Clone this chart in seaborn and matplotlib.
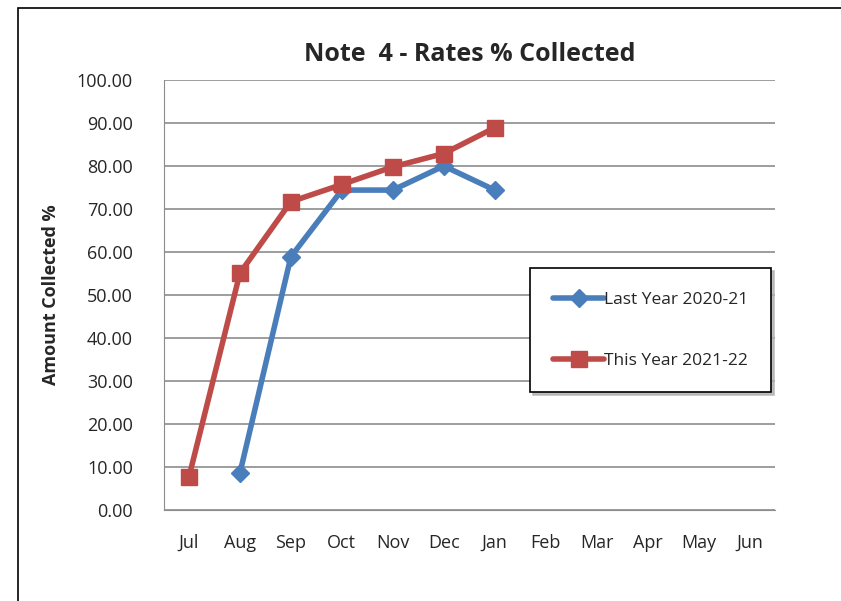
import matplotlib
matplotlib.use("Agg")
import matplotlib.pyplot as plt
import seaborn as sns
import pandas as pd
import numpy as np

months = ["Jul", "Aug", "Sep", "Oct", "Nov", "Dec", "Jan", "Feb", "Mar", "Apr", "May", "Jun"]
last_year = [np.nan, 8.6, 58.9, 74.4, 74.4, 80.0, 74.4, np.nan, np.nan, np.nan, np.nan, np.nan]
this_year = [7.7, 55.1, 71.7, 75.7, 79.8, 82.9, 88.9, np.nan, np.nan, np.nan, np.nan, np.nan]

df = pd.DataFrame({
    "month": months * 2,
    "pos": list(range(len(months))) * 2,
    "value": last_year + this_year,
    "series": ["Last Year 2020-21"] * len(months) + ["This Year 2021-22"] * len(months),
})

sns.set_style("white")
plt.rcParams["font.family"] = ["Open Sans", "DejaVu Sans"]

fig = plt.figure(figsize=(8.41, 6.01), dpi=100)
ax = fig.add_axes([163.5 / 841, 1 - 510 / 601, (775 - 163.5) / 841, 430 / 601])

colors = {"Last Year 2020-21": "#4a7ebb", "This Year 2021-22": "#be4b48"}
markers = {"Last Year 2020-21": "D", "This Year 2021-22": "s"}
for name, grp in df.groupby("series"):
    grp = grp.dropna()
    ax.plot(grp["pos"], grp["value"], color=colors[name], marker=markers[name],
            markersize=9 if name.startswith("Last") else 11, linewidth=4,
            label=name, zorder=3)

ax.set_xlim(-0.5, len(months) - 0.5)
ax.set_ylim(0, 100)
ax.set_yticks(np.arange(0, 101, 10))
ax.set_yticklabels([f"{v:.2f}" for v in np.arange(0, 101, 10)], fontsize=13)
ax.set_xticks(range(len(months)))
ax.set_xticklabels(months, fontsize=13)
ax.tick_params(axis="x", pad=17, length=0)
ax.tick_params(axis="y", pad=22, length=0)
ax.yaxis.grid(True, color="#8c8c8c", linewidth=1.2)
for s in ["top", "right"]:
    ax.spines[s].set_visible(False)
ax.spines["left"].set_color("#8c8c8c")
ax.spines["bottom"].set_color("#8c8c8c")
ax.set_ylabel("Amount Collected %", fontsize=13, fontweight="bold", labelpad=12)
ax.set_title("Note  4 - Rates % Collected", fontsize=18, fontweight="bold", pad=14)

leg = ax.legend(loc="upper left", bbox_to_anchor=((530 - 163.5) / (775 - 163.5), (510 - 268) / 430),
                frameon=True, fancybox=False, shadow={"color": "#b0b0b0", "alpha": 0.8},
                fontsize=12.5, handlelength=2.9, handletextpad=0.0, labelspacing=2.6,
                borderpad=1.35, borderaxespad=0)
leg.get_frame().set_edgecolor("black")
leg.get_frame().set_linewidth(1.2)

# outer chart frame
fig.patches.append(plt.Rectangle((18 / 841, -0.02), 1.0, 1 - 8 / 601 + 0.02,
                                 transform=fig.transFigure, fill=False,
                                 edgecolor="black", linewidth=1.2))

fig.savefig("out.png", dpi=100)
